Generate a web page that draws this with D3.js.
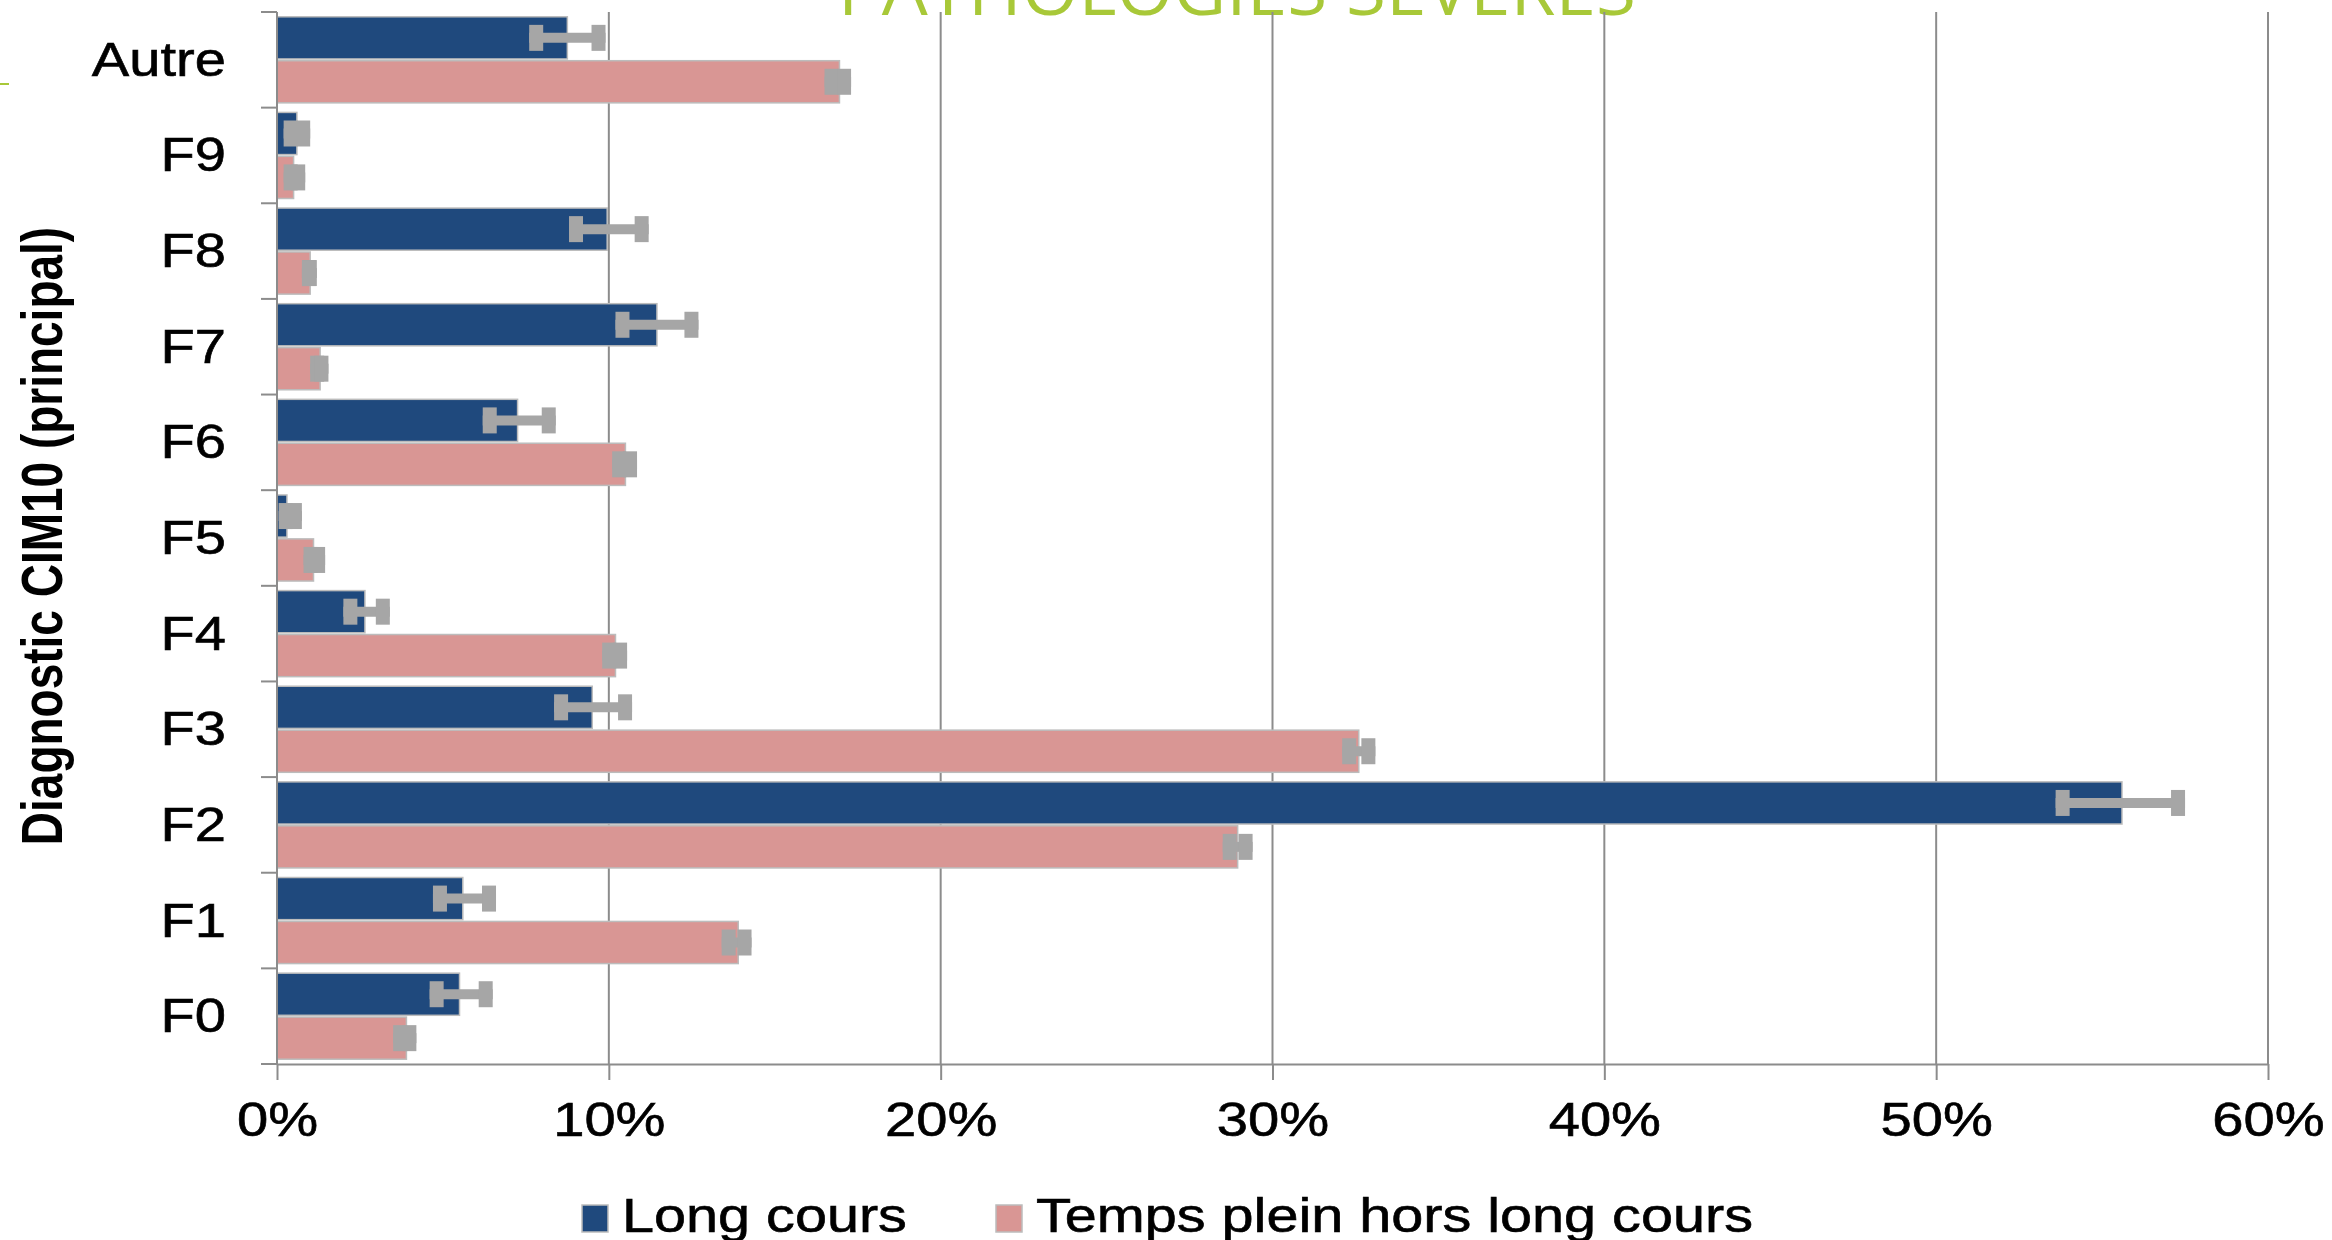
<!DOCTYPE html>
<html>
<head>
<meta charset="utf-8">
<script src="https://cdn.jsdelivr.net/npm/d3@7/dist/d3.min.js"></script>
<style>
body { margin: 0; background: #fff; overflow: hidden; }
svg { display: block; }
text { font-family: Arial, "Liberation Sans", sans-serif; }
</style>
</head>
<body>
<svg id="chart"></svg>
<script>
var width = 2332;
var height = 1240;

// data (percent)
var categories = ["Autre", "F9", "F8", "F7", "F6", "F5", "F4", "F3", "F2", "F1", "F0"];
var seriesNames = ["Long cours", "Temps plein hors long cours"];
var longCours     = [8.75, 0.6, 9.95, 11.45, 7.25, 0.3, 2.65, 9.5, 55.6, 5.6, 5.5];
var longCoursLow  = [7.6, 0.2, 8.8, 10.2, 6.2, 0.05, 2.0, 8.35, 53.6, 4.7, 4.6];
var longCoursHigh = [9.9, 1.0, 11.2, 12.7, 8.4, 0.75, 3.4, 10.7, 57.5, 6.6, 6.5];
var tempsPlein     = [16.95, 0.5, 1.0, 1.3, 10.5, 1.1, 10.2, 32.6, 28.95, 13.9, 3.9];
var tempsPleinLow  = [16.5, 0.2, 0.75, 1.0, 10.1, 0.8, 9.8, 32.1, 28.5, 13.4, 3.5];
var tempsPleinHigh = [17.3, 0.85, 1.2, 1.55, 10.85, 1.45, 10.55, 33.1, 29.4, 14.3, 4.2];
var xTicks = [0, 10, 20, 30, 40, 50, 60];
var colors = ["#1f497d", "#d99694"];

var titleText = "PATHOLOGIES SÉVÈRES";
var yTitle = "Diagnostic CIM10 (principal)";

var stretch = 1.17;   // the source picture is a bit wider than tall
var gridColor = "#8c8c8c";
var errColor = "#a6a6a6";

var rows = categories.map(function(c, i) {
	return {
		cat: c,
		bars: [
			{s: seriesNames[0], v: longCours[i], lo: longCoursLow[i], hi: longCoursHigh[i]},
			{s: seriesNames[1], v: tempsPlein[i], lo: tempsPleinLow[i], hi: tempsPleinHigh[i]}
		]
	};
});

var svg = d3.select("#chart").attr("width", width).attr("height", height);

// slide title, mostly cut by the top edge
svg.append("text")
	.attr("x", 1237).attr("y", 15)
	.attr("text-anchor", "middle")
	.attr("textLength", 798)
	.attr("lengthAdjust", "spacingAndGlyphs")
	.style("font-family", "'Open Sans', sans-serif")
	.style("font-size", "70px")
	.style("fill", "#a8c838")
	.text(titleText);

svg.append("line")
	.attr("x1", 0).attr("x2", 9).attr("y1", 84).attr("y2", 84)
	.attr("stroke", "#a8c838").attr("stroke-width", 2);

var x = d3.scaleLinear().domain([0, 60]).range([277, 2268]);
var y = d3.scaleBand().domain(categories).range([12, 1064]).paddingInner(0.1).paddingOuter(0.05);
var ySub = d3.scaleBand().domain(seriesNames).range([0, y.bandwidth()]).paddingInner(0.04);
var color = d3.scaleOrdinal().domain(seriesNames).range(colors);

var plotTop = y.range()[0], plotBottom = y.range()[1];

//vertical gridlines
svg.append("g").attr("class", "grid")
	.selectAll("line")
	.data(xTicks)
	.enter().append("line")
		.attr("x1", function(d) { return x(d); })
		.attr("x2", function(d) { return x(d); })
		.attr("y1", plotTop)
		.attr("y2", plotBottom)
		.attr("stroke", gridColor)
		.attr("stroke-width", 2);

// category boundary ticks on the left
var bounds = categories.map(function(c) { return y(c) - y.step() * y.paddingInner() / 2; });
bounds[0] = plotTop;
bounds.push(plotBottom);
svg.append("g").attr("class", "yticks")
	.selectAll("line")
	.data(bounds)
	.enter().append("line")
		.attr("x1", x(0) - 16).attr("x2", x(0))
		.attr("y1", function(d) { return d; })
		.attr("y2", function(d) { return d; })
		.attr("stroke", gridColor)
		.attr("stroke-width", 2);

// bars
var groups = svg.append("g").attr("class", "bars")
	.selectAll("g")
	.data(rows)
	.enter().append("g")
		.attr("transform", function(d) { return "translate(0," + y(d.cat) + ")"; });

groups.selectAll("rect")
	.data(function(d) { return d.bars; })
	.enter().append("rect")
		.attr("x", x(0))
		.attr("y", function(d) { return ySub(d.s); })
		.attr("width", function(d) { return x(d.v) - x(0); })
		.attr("height", ySub.bandwidth())
		.attr("fill", function(d) { return color(d.s); })
		.attr("stroke", "#bcbcbc")
		.attr("stroke-width", 1.5);

// error bars
var capW = 14, capH = 26;
var errs = groups.selectAll("g.err")
	.data(function(d) { return d.bars; })
	.enter().append("g").attr("class", "err")
		.attr("transform", function(d) { return "translate(0," + (ySub(d.s) + ySub.bandwidth() / 2) + ")"; });
errs.append("line")
	.attr("x1", function(d) { return x(d.lo); })
	.attr("x2", function(d) { return x(d.hi); })
	.attr("stroke", errColor)
	.attr("stroke-width", 10);
errs.append("rect")
	.attr("x", function(d) { return x(d.lo); })
	.attr("y", -capH / 2).attr("width", capW).attr("height", capH)
	.attr("fill", errColor);
errs.append("rect")
	.attr("x", function(d) { return x(d.hi) - capW; })
	.attr("y", -capH / 2).attr("width", capW).attr("height", capH)
	.attr("fill", errColor);

// axes
var xAxis = svg.append("g")
	.attr("transform", "translate(0," + plotBottom + ")")
	.call(d3.axisBottom(x).tickValues(xTicks).tickSize(16).tickSizeOuter(0)
		.tickFormat(function(d) { return d + "%"; }));
xAxis.select(".domain").attr("stroke", gridColor).attr("stroke-width", 2);
xAxis.selectAll(".tick line").attr("stroke", gridColor).attr("stroke-width", 2);
xAxis.selectAll(".tick text")
	.attr("y", 72).attr("dy", null)
	.attr("transform", "scale(" + stretch + ",1)")
	.style("font-size", "48px")
	.style("fill", "#000")
	.style("stroke", "#000").style("stroke-width", 0.6);

svg.append("line")
	.attr("x1", x(0)).attr("x2", x(0))
	.attr("y1", plotTop).attr("y2", plotBottom)
	.attr("stroke", gridColor).attr("stroke-width", 2);

// category labels
svg.append("g").attr("class", "ylabels")
	.selectAll("text")
	.data(categories)
	.enter().append("text")
		.attr("transform", function(d) {
			return "translate(226," + (y(d) + y.bandwidth() / 2 + 16) + ") scale(" + stretch + ",1)";
		})
		.attr("text-anchor", "end")
		.style("font-size", "48px")
		.style("fill", "#000")
		.style("stroke", "#000").style("stroke-width", 0.6)
		.text(function(d) { return d; });

svg.append("text")
	.attr("transform", "translate(62," + ((plotTop + plotBottom) / 2 - 2) + ") scale(1.25,1) rotate(-90)")
	.attr("text-anchor", "middle")
	.style("font-size", "46px")
	.style("font-weight", "bold")
	.style("fill", "#000")
	.text(yTitle);

// legend
var legendX = [582, 996];
var legend = svg.append("g").attr("class", "legend")
	.selectAll("g")
	.data(seriesNames)
	.enter().append("g")
		.attr("transform", function(d, i) { return "translate(" + legendX[i] + ",0)"; });
legend.append("rect")
	.attr("x", 0).attr("y", 1205).attr("width", 26).attr("height", 27)
	.attr("fill", function(d) { return color(d); })
	.attr("stroke", "#bcbcbc").attr("stroke-width", 1.5);
legend.append("text")
	.attr("transform", "translate(40,1232) scale(1.2,1)")
	.style("font-size", "48px")
	.style("fill", "#000")
	.style("stroke", "#000").style("stroke-width", 0.6)
	.text(function(d) { return d; });
</script>
</body>
</html>
